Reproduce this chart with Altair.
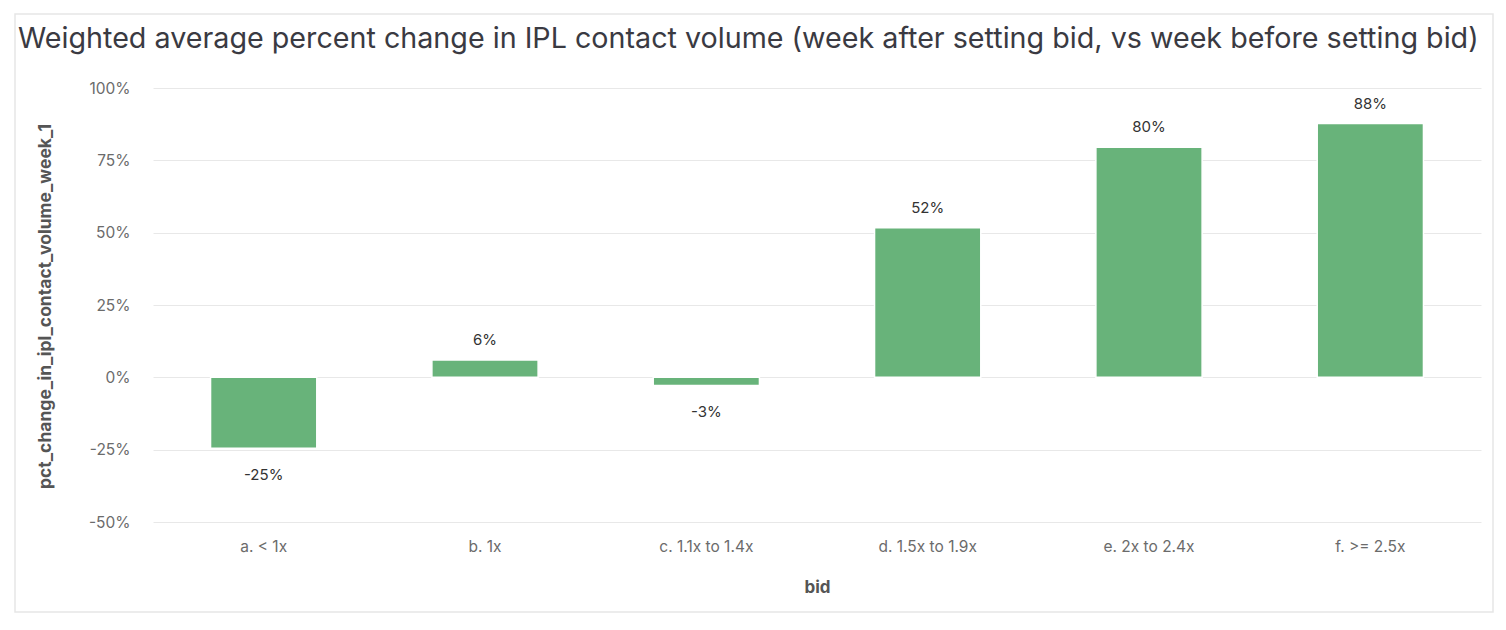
import altair as alt
import pandas as pd

bids = ["a. < 1x", "b. 1x", "c. 1.1x to 1.4x", "d. 1.5x to 1.9x", "e. 2x to 2.4x", "f. >= 2.5x"]
pct_change = [-0.245, 0.06, -0.028, 0.517, 0.795, 0.877]

field = "pct_change_in_ipl_contact_volume_week_1"
df = pd.DataFrame({"bid": bids, field: pct_change})

FONT = "Inter"
LABEL_EXPR = "replace(format(datum.value, '.0%'), '\u2212', '-')"

x_enc = alt.X("bid:N", sort=bids, title="bid",
              scale=alt.Scale(paddingInner=0.52, paddingOuter=0.26),
              axis=alt.Axis(labelAngle=0, ticks=False, domain=False, grid=False,
                            labelPadding=17, labelFontSize=15.5, labelColor="#6b6b6b",
                            titleFontSize=17, titleColor="#555555", titleFontWeight="bold",
                            titleY=65, titleBaseline="middle"))
y_enc = alt.Y(f"{field}:Q", title=field,
              scale=alt.Scale(domain=[-0.5, 1.0], nice=False),
              axis=alt.Axis(labelExpr=LABEL_EXPR, values=[-0.5, -0.25, 0, 0.25, 0.5, 0.75, 1.0],
                            ticks=False, domain=False, grid=True, gridColor="#e8e8e8",
                            labelPadding=23, labelFontSize=15.5, labelColor="#6b6b6b",
                            titleFontSize=17.5, titleColor="#555555", titleFontWeight="bold",
                            titleX=-108, titleY=218, titleBaseline="middle"))

frame = alt.Chart(pd.DataFrame({"k": [0]})).mark_rect(
    fill=None, stroke="#e6e6e6", strokeWidth=1.5
).encode(x=alt.value(-138), x2=alt.value(1340), y=alt.value(-74), y2=alt.value(524))

bars = alt.Chart(df).mark_bar(color="#68b37a", stroke="white", strokeWidth=1.5).encode(
    x=x_enc, y=y_enc
)

base_text = alt.Chart(df).transform_calculate(
    lbl=f"replace(format(datum['{field}'], '.0%'), '\u2212', '-')"
)

pos = base_text.transform_filter(alt.datum[field] >= 0).mark_text(
    baseline="bottom", dy=-12, fontSize=15, color="#333333", font=FONT
).encode(x=alt.X("bid:N", sort=bids), y=alt.Y(f"{field}:Q"), text="lbl:N")

neg = base_text.transform_filter(alt.datum[field] < 0).mark_text(
    baseline="top", dy=20, fontSize=15, color="#333333", font=FONT
).encode(x=alt.X("bid:N", sort=bids), y=alt.Y(f"{field}:Q"), text="lbl:N")

chart = alt.layer(frame, bars, pos, neg).properties(
    width=1328, height=434,
    title=alt.TitleParams(
        "Weighted average percent change in IPL contact volume (week after setting bid, vs week before setting bid)",
        anchor="start", frame="group", dx=-135, offset=-40, fontSize=28.7, fontWeight="normal",
        color="#3a3a42", font=FONT),
    autosize=alt.AutoSizeParams(type="none"),
    padding={"left": 145, "top": 80, "right": 17, "bottom": 100},
).configure(font=FONT).configure_view(stroke=None)

chart.save("out.html", embed_options={"renderer": "svg", "actions": False})
